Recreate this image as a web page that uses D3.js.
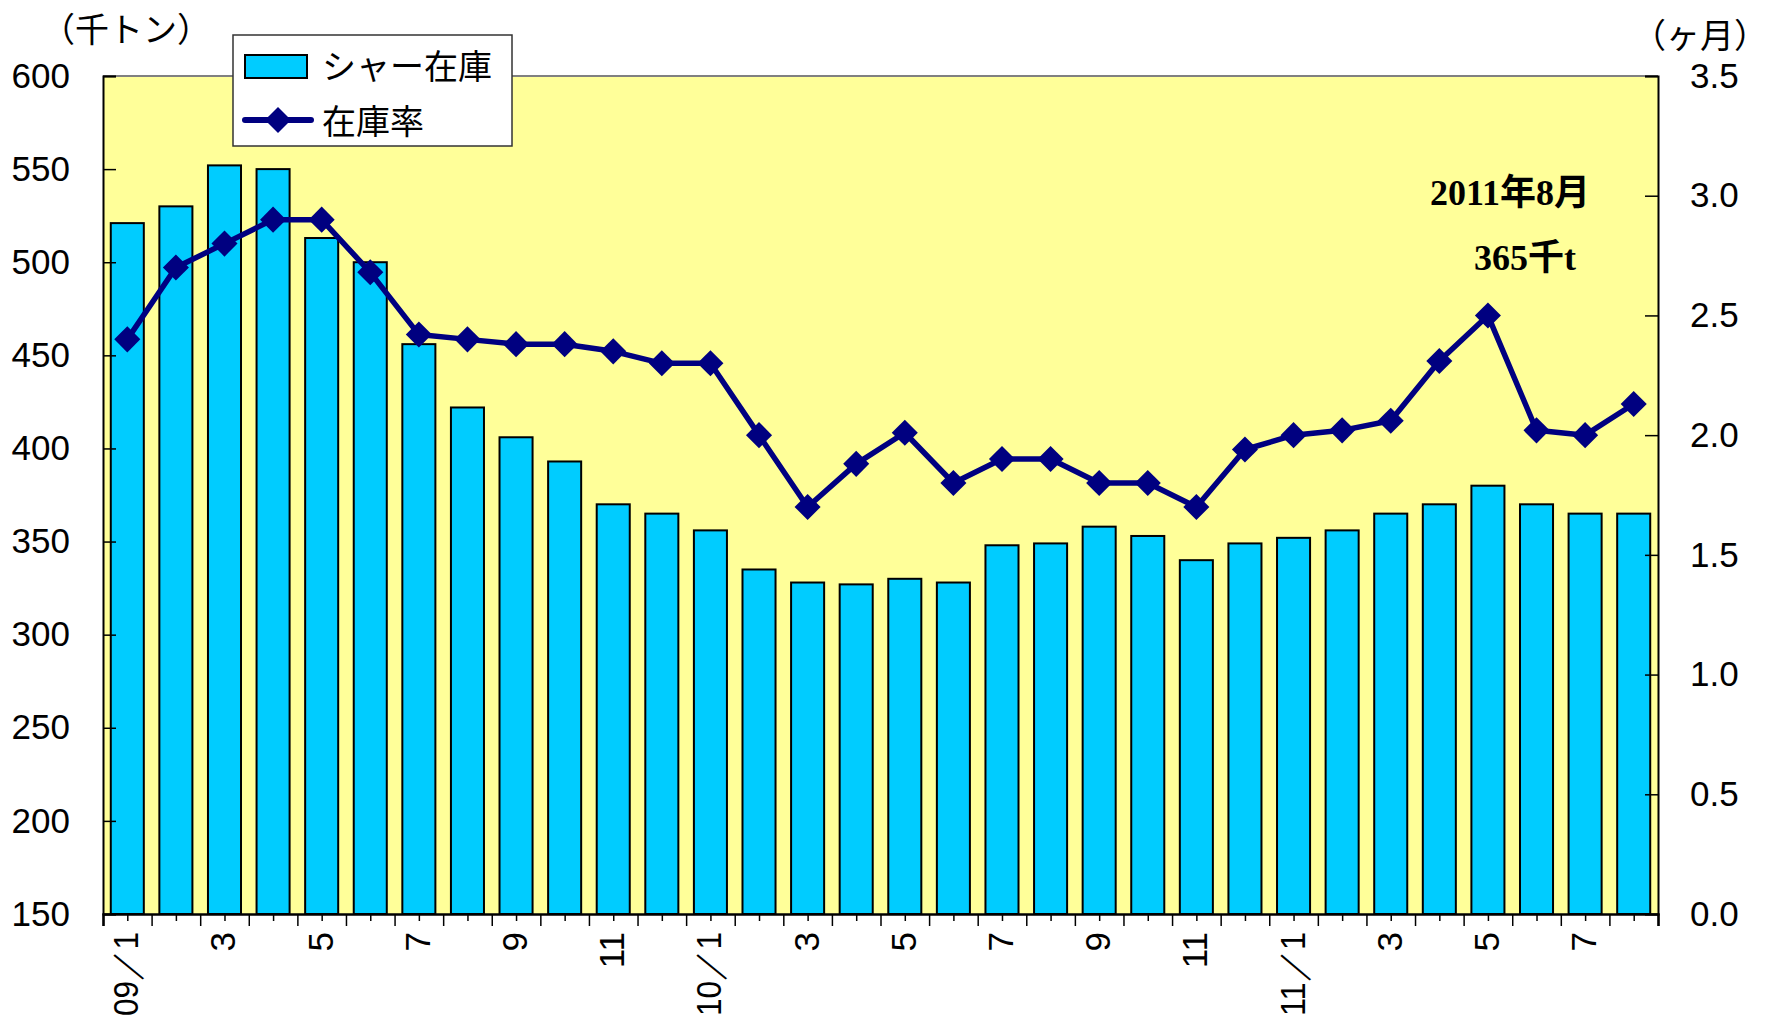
<!doctype html>
<html lang="ja">
<head>
  <meta charset="utf-8">
  <title>シャー在庫と在庫率</title>
  <style>
    body {
      margin: 0;
      background: #fff;
    }
    svg text {
      fill: #000;
    }
    .num {
      font-family: "Liberation Sans", Arial, sans-serif;
      font-size: 35px;
    }
    .jp {
      font-family: "Noto Sans CJK JP", sans-serif;
      font-size: 34px;
    }
    .note {
      font-family: "Liberation Serif", "Noto Sans CJK JP", serif;
      font-weight: bold;
      font-size: 36px;
    }
  </style>
</head>
<body>
  <svg id="chart" width="1784" height="1020"></svg>

  <script src="https://d3js.org/d3.v7.min.js"></script>
  <script>
    // month labels, 2009/1 .. 2011/8
    var months = ["09／1", "2", "3", "4", "5", "6", "7", "8", "9", "10", "11", "12",
                  "10／1", "2", "3", "4", "5", "6", "7", "8", "9", "10", "11", "12",
                  "11／1", "2", "3", "4", "5", "6", "7", "8"]
    // シャー在庫 (千トン)
    var stock = [521, 530, 552, 550, 513, 500, 456, 422, 406, 393, 370, 365,
                 356, 335, 328, 327, 330, 328, 348, 349, 358, 353, 340, 349,
                 352, 356, 365, 370, 380, 370, 365, 365]
    // 在庫率 (ヶ月)
    var ratio = [2.40, 2.70, 2.80, 2.90, 2.90, 2.68, 2.42, 2.40, 2.38, 2.38, 2.35, 2.30,
                 2.30, 2.00, 1.70, 1.88, 2.01, 1.80, 1.90, 1.90, 1.80, 1.80, 1.70, 1.94,
                 2.00, 2.02, 2.06, 2.31, 2.50, 2.02, 2.00, 2.13]
    var leftTicks = [150, 200, 250, 300, 350, 400, 450, 500, 550, 600]
    var rightTicks = [0, 0.5, 1, 1.5, 2, 2.5, 3, 3.5]

    var pLeft = 103, pRight = 1658, pTop = 76, pBottom = 914
    var svg = d3.select("#chart")

    var x = d3.scaleBand()
      .domain(d3.range(months.length))
      .range([pLeft, pRight])
      .paddingInner(0.32)
      .paddingOuter(0.16)
    var xEdge = d3.scaleLinear().domain([0, months.length]).range([pLeft, pRight])
    var yL = d3.scaleLinear().domain([150, 600]).range([pBottom, pTop])
    var yR = d3.scaleLinear().domain([0, 3.5]).range([pBottom, pTop])

    // plot area
    svg.append("rect")
      .attr("x", pLeft).attr("y", pTop)
      .attr("width", pRight - pLeft).attr("height", pBottom - pTop)
      .attr("fill", "#ffff99")
    svg.append("line")
      .attr("x1", pLeft).attr("x2", pRight).attr("y1", pTop).attr("y2", pTop)
      .attr("stroke", "#808080").attr("stroke-width", 2)

    // bars
    svg.append("g").selectAll("rect")
      .data(stock)
      .join("rect")
      .attr("x", function(d, i) { return x(i) })
      .attr("y", function(d) { return yL(d) })
      .attr("width", x.bandwidth())
      .attr("height", function(d) { return pBottom - yL(d) })
      .attr("fill", "#00ccff")
      .attr("stroke", "#000")
      .attr("stroke-width", 2)

    // left axis
    var gL = svg.append("g")
      .attr("class", "num")
      .attr("transform", "translate(" + pLeft + ",0)")
      .call(d3.axisLeft(yL).tickValues(leftTicks).tickFormat(d3.format("d"))
        .tickSize(-13).tickPadding(33))
    gL.select(".domain").attr("stroke", "#000").attr("stroke-width", 2)
    gL.selectAll(".tick line").attr("stroke", "#000").attr("stroke-width", 1.5)
    gL.selectAll("text").attr("font-size", 35).attr("font-family", null)

    // right axis
    var gR = svg.append("g")
      .attr("class", "num")
      .attr("transform", "translate(" + pRight + ",0)")
      .call(d3.axisRight(yR).tickValues(rightTicks).tickFormat(d3.format(".1f"))
        .tickSize(-13).tickPadding(32))
    gR.select(".domain").attr("stroke", "#000").attr("stroke-width", 2)
    gR.selectAll(".tick line").attr("stroke", "#000").attr("stroke-width", 1.5)
    gR.selectAll("text").attr("font-size", 35).attr("font-family", null)

    // bottom axis: long ticks between months, short ticks at month centres
    var gB = svg.append("g").attr("transform", "translate(0," + pBottom + ")")
    gB.call(d3.axisBottom(xEdge).tickValues(d3.range(months.length + 1)).tickSize(12).tickFormat(""))
    gB.select(".domain").attr("stroke", "#000").attr("stroke-width", 2.5)
    gB.selectAll(".tick line").attr("stroke", "#000").attr("stroke-width", 1.5)
    var gB2 = svg.append("g").attr("transform", "translate(0," + pBottom + ")")
    gB2.call(d3.axisBottom(xEdge).tickValues(d3.range(0.5, months.length, 1)).tickSize(7).tickFormat(""))
    gB2.select(".domain").remove()
    gB2.selectAll(".tick line").attr("stroke", "#000").attr("stroke-width", 1.5)

    svg.append("g").selectAll("text")
      .data(months.map(function(m, i) { return {label: m, i: i} })
        .filter(function(d) { return d.i % 2 === 0 }))
      .join("text")
      .attr("class", "num")
      .attr("font-size", 32)
      .attr("text-anchor", "end")
      .attr("transform", function(d) {
        return "translate(" + (x(d.i) + x.bandwidth() / 2 + 11) + "," + (pBottom + 18) + ") rotate(-90)"
      })
      .attr("textLength", function(d) { return d.label.length > 2 ? 84 : null })
      .attr("lengthAdjust", "spacingAndGlyphs")
      .text(function(d) { return d.label })

    // 在庫率 line
    var line = d3.line()
      .x(function(d, i) { return x(i) + x.bandwidth() / 2 })
      .y(function(d) { return yR(d) })
    svg.append("path")
      .datum(ratio)
      .attr("d", line)
      .attr("fill", "none")
      .attr("stroke", "#000080")
      .attr("stroke-width", 5.5)
      .attr("stroke-linejoin", "round")
    var diamond = d3.symbol().type(d3.symbolSquare).size(340)
    svg.append("g").selectAll("path")
      .data(ratio)
      .join("path")
      .attr("d", diamond)
      .attr("fill", "#000080")
      .attr("transform", function(d, i) {
        return "translate(" + (x(i) + x.bandwidth() / 2) + "," + yR(d) + ") rotate(45)"
      })

    // axis titles
    svg.append("text").attr("class", "jp").attr("font-size", 36).attr("x", 41).attr("y", 42).text("（千トン）")
    svg.append("text").attr("class", "jp").attr("font-size", 38).attr("x", 1632).attr("y", 48).text("（ヶ月）")

    // annotation
    svg.append("text").attr("class", "note").attr("x", 1510).attr("y", 205)
      .attr("text-anchor", "middle").text("2011年8月")
    svg.append("text").attr("class", "note").attr("x", 1525).attr("y", 270)
      .attr("text-anchor", "middle").text("365千t")

    // legend
    var lg = svg.append("g")
    lg.append("rect")
      .attr("x", 233).attr("y", 35).attr("width", 279).attr("height", 111)
      .attr("fill", "#fff").attr("stroke", "#333").attr("stroke-width", 1.5)
    lg.append("rect")
      .attr("x", 245).attr("y", 55).attr("width", 62).attr("height", 23)
      .attr("fill", "#00ccff").attr("stroke", "#000").attr("stroke-width", 2)
    lg.append("text").attr("class", "jp").attr("font-size", 35).attr("x", 322).attr("y", 79).text("シャー在庫")
    lg.append("line")
      .attr("x1", 245).attr("x2", 311).attr("y1", 120).attr("y2", 120)
      .attr("stroke", "#000080").attr("stroke-width", 6).attr("stroke-linecap", "round")
    lg.append("path")
      .attr("d", diamond)
      .attr("fill", "#000080")
      .attr("transform", "translate(278,120) rotate(45)")
    lg.append("text").attr("class", "jp").attr("font-size", 35).attr("x", 322).attr("y", 134).text("在庫率")
  </script>
</body>
</html>
